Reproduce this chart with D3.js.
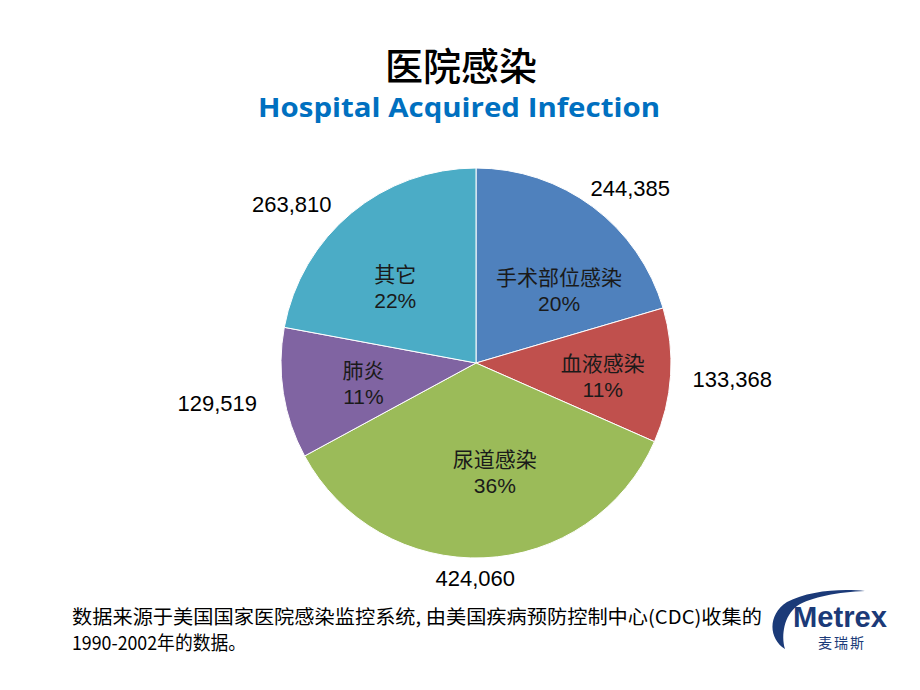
<!DOCTYPE html>
<html>
<head>
<meta charset="utf-8">
<script src="https://cdn.jsdelivr.net/npm/d3@7"></script>
<style>
  body { margin: 0; background: #fff; }
  svg { display: block; }
</style>
</head>
<body>
<svg id="chart" width="920" height="690"></svg>
<script>
// data
const categories = ['手术部位感染', '血液感染', '尿道感染', '肺炎', '其它'];
const counts = [244385, 133368, 424060, 129519, 263810];
const percentLabels = ['20%', '11%', '36%', '11%', '22%'];
const valueLabels = ['244,385', '133,368', '424,060', '129,519', '263,810'];

const colors = ['#4F81BD', '#C0504D', '#9BBB59', '#8064A2', '#4BACC6'];

const width = 920, height = 690;
const cx = 476, cy = 363, R = 195;
const cjk = '"Noto Sans CJK SC", "Noto Sans", sans-serif';
const arial = '"Liberation Sans", Arial, sans-serif';

// label nudges (bestFit placement in the original is a bit irregular)
const innerNudge = [[13, 21], [10, 5], [14, -8], [3, 2], [-6, 14]];
const outerNudge = [[4, 0], [6, 2], [-11, -3], [-11, 6], [-24, 9]];

const svg = d3.select('#chart');

// title
svg.append('text')
    .attr('x', 461).attr('y', 80)
    .attr('text-anchor', 'middle')
    .attr('font-family', cjk)
    .attr('font-size', 38)
    .attr('font-weight', 500)
    .attr('fill', '#000')
    .text('医院感染');

svg.append('text')
    .attr('x', 459).attr('y', 117)
    .attr('text-anchor', 'middle')
    .attr('font-family', '"Open Sans", "Noto Sans", sans-serif')
    .attr('font-size', 27)
    .attr('font-weight', 700)
    .attr('fill', '#0070C0')
    .attr('textLength', 402)
    .attr('lengthAdjust', 'spacingAndGlyphs')
    .text('Hospital Acquired Infection');

// pie
const data = categories.map((c, i) => ({name: c, value: counts[i], pct: percentLabels[i], label: valueLabels[i], color: colors[i]}));
const pie = d3.pie().sort(null).value(d => d.value);
const arcs = pie(data);
const arc = d3.arc().innerRadius(0).outerRadius(R);

const g = svg.append('g').attr('transform', `translate(${cx},${cy})`);

g.selectAll('path.slice')
    .data(arcs)
    .enter()
    .append('path')
    .attr('class', 'slice')
    .attr('d', arc)
    .attr('fill', d => d.data.color)
    .attr('stroke', '#fff')
    .attr('stroke-width', 1);

// inner labels: name + percent
const labelArc = d3.arc().innerRadius(R * 0.6).outerRadius(R * 0.6);
const inner = g.selectAll('g.inner')
    .data(arcs)
    .enter()
    .append('g')
    .attr('class', 'inner')
    .attr('transform', (d, i) => {
        const c = labelArc.centroid(d);
        return `translate(${c[0] + innerNudge[i][0]},${c[1] + innerNudge[i][1]})`;
    });

inner.append('text')
    .attr('text-anchor', 'middle')
    .attr('y', -5)
    .attr('font-family', cjk)
    .attr('font-size', 21)
    .attr('fill', '#1a1a1a')
    .text(d => d.data.name);

inner.append('text')
    .attr('text-anchor', 'middle')
    .attr('y', 21)
    .attr('font-family', arial)
    .attr('font-size', 21)
    .attr('fill', '#1a1a1a')
    .text(d => d.data.pct);

// outer value labels
const gap = 16, h = 14;
g.selectAll('text.value')
    .data(arcs)
    .enter()
    .append('text')
    .attr('class', 'value')
    .attr('text-anchor', 'middle')
    .attr('font-family', arial)
    .attr('font-size', 22)
    .attr('fill', '#000')
    .text(d => d.data.label)
    .each(function(d, i) {
        const w = this.getComputedTextLength();
        const a = (d.startAngle + d.endAngle) / 2;
        const s = Math.sin(a), c = Math.cos(a);
        const x = (R + gap) * s + s * w / 2 + outerNudge[i][0];
        const y = -(R + gap) * c - c * h / 2 + outerNudge[i][1];
        d3.select(this).attr('x', x).attr('y', y + 8);
    });

// footer note
svg.append('text')
    .attr('x', 72).attr('y', 624)
    .attr('font-family', cjk)
    .attr('font-size', 19)
    .attr('fill', '#000')
    .attr('textLength', 690)
    .attr('lengthAdjust', 'spacingAndGlyphs')
    .text('数据来源于美国国家医院感染监控系统, 由美国疾病预防控制中心(CDC)收集的');

svg.append('text')
    .attr('x', 72).attr('y', 650)
    .attr('font-family', cjk)
    .attr('font-size', 19)
    .attr('fill', '#000')
    .attr('textLength', 174)
    .attr('lengthAdjust', 'spacingAndGlyphs')
    .text('1990-2002年的数据。');

// Metrex logo
const logo = svg.append('g').attr('transform', 'translate(765,587)');
logo.append('rect').attr('width', 132).attr('height', 70).attr('fill', '#fff');
logo.append('path')
    .attr('d', 'M20,62 C4,52 2,28 22,15 C42,4 76,1 100,4 C74,5 46,10 32,19 C19,29 16,48 20,62 Z')
    .attr('fill', '#1b3a78');
logo.append('text')
    .attr('x', 75).attr('y', 40)
    .attr('text-anchor', 'middle')
    .attr('font-family', '"Liberation Sans Narrow", "Liberation Sans", Arial, sans-serif')
    .attr('font-size', 29)
    .attr('font-weight', 700)
    .attr('fill', '#1b3a78')
    .attr('textLength', 94)
    .attr('lengthAdjust', 'spacingAndGlyphs')
    .text('Metrex');
logo.append('text')
    .attr('x', 77).attr('y', 61)
    .attr('text-anchor', 'middle')
    .attr('font-family', cjk)
    .attr('font-size', 14)
    .attr('fill', '#1b3a78')
    .attr('letter-spacing', 2)
    .text('麦瑞斯');
</script>
</body>
</html>
